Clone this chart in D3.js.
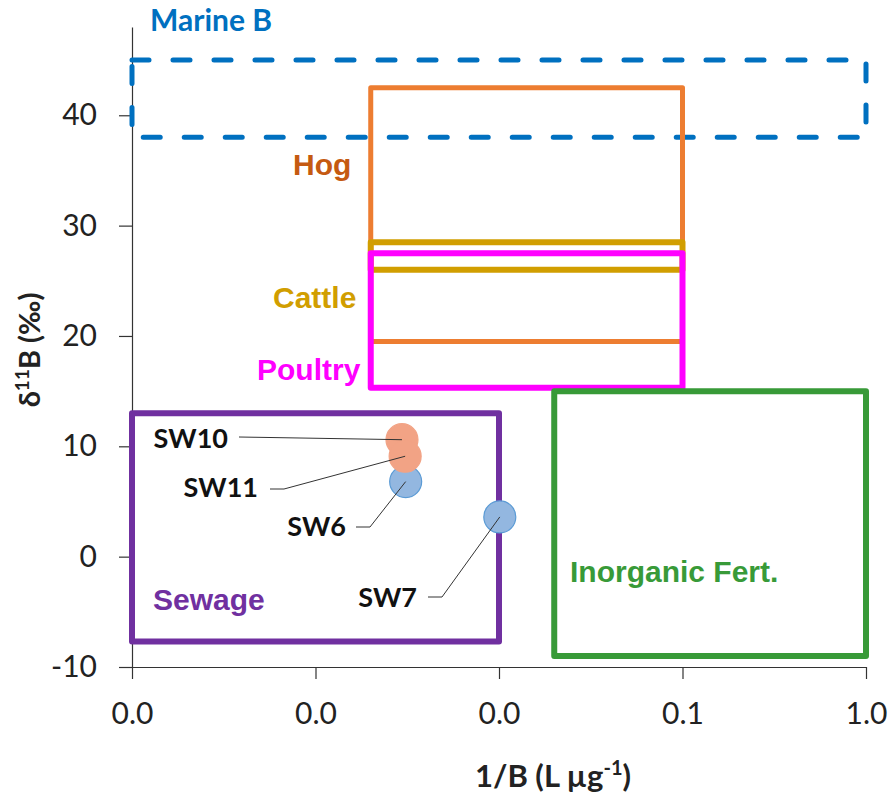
<!DOCTYPE html>
<html>
<head>
<meta charset="utf-8">
<script src="https://cdn.jsdelivr.net/npm/d3@7"></script>
<style>
  body { margin: 0; background: #fff; }
  svg { display: block; }
  .tick text { font-family: Lato, "Open Sans", sans-serif; font-size: 30px; fill: #222; }
  .tick line, .domain { stroke: #333; stroke-width: 1.2; }
</style>
</head>
<body>
<div id="chart"></div>
<script>
// Source boxes (ranges of 1/B and d11B)
var boxNames = ["Marine B", "Hog", "Cattle", "Poultry", "Sewage", "Inorganic Fert."];
var boxXmin = [0.0001, 0.002, 0.002, 0.002, 0.0001, 0.02];
var boxXmax = [1, 0.1, 0.1, 0.1, 0.01, 1];
var boxYmin = [38, 19.5, 26, 15.3, -7.7, -9];
var boxYmax = [45, 42.5, 28.5, 27.5, 13, 15];

// Samples
var sampleNames = ["SW6", "SW7", "SW10", "SW11"];
var sampleX = [0.0031, 0.0101, 0.00296, 0.00308];
var sampleY = [6.8, 3.6, 10.6, 9.1];

// Axis ticks
var xTicks = [0.0001, 0.001, 0.01, 0.1, 1];
var yTicks = [-10, 0, 10, 20, 30, 40];

var width = 889, height = 796;
var margin = { top: 27, right: 23, bottom: 129, left: 132 };

var svg = d3.select("#chart").append("svg")
    .attr("width", width)
    .attr("height", height);

var x = d3.scaleLog()
    .domain([0.0001, 1])
    .range([margin.left, width - margin.right]);

var y = d3.scaleLinear()
    .domain([-10, 48])
    .range([height - margin.bottom, margin.top]);

// styles for each box
var boxStyle = {
    "Marine B":        { stroke: "#0070C0", width: 5, dash: "17,24", label: "#0070C0" },
    "Hog":             { stroke: "#ED7D31", width: 5, label: "#C55A11" },
    "Cattle":          { stroke: "#D19E00", width: 6, label: "#D19E00" },
    "Poultry":         { stroke: "#FF00FF", width: 6, label: "#FF00FF" },
    "Sewage":          { stroke: "#7030A0", width: 6, label: "#7030A0" },
    "Inorganic Fert.": { stroke: "#389A38", width: 6, label: "#389A38" }
};
// label placement (pixel layout)
var boxLabelPos = {
    "Marine B":        { x: 150, y: 31, font: "Lato, sans-serif", size: 30 },
    "Hog":             { x: 293, y: 175 },
    "Cattle":          { x: 273, y: 308 },
    "Poultry":         { x: 257, y: 380 },
    "Sewage":          { x: 153, y: 610 },
    "Inorganic Fert.": { x: 570, y: 582 }
};

// axes
svg.append("g")
    .attr("transform", "translate(0," + (height - margin.bottom) + ")")
    .call(d3.axisBottom(x).tickValues(xTicks).tickFormat(d3.format(".1f")).tickSize(12).tickPadding(24).tickSizeOuter(0));

svg.append("g")
    .attr("transform", "translate(" + margin.left + ",0)")
    .call(d3.axisLeft(y).tickValues(yTicks).tickFormat(function(d) { return String(d); })
        .tickSize(13).tickPadding(22).tickSizeOuter(0));

svg.selectAll(".domain").attr("stroke", "#333");

// boxes (draw order matters: hog, cattle, poultry overlap)
var boxes = boxNames.map(function(n, i) {
    return { name: n, x0: boxXmin[i], x1: boxXmax[i], y0: boxYmin[i], y1: boxYmax[i] };
});

svg.selectAll("rect.box")
    .data(boxes)
    .enter().append("rect")
    .attr("class", "box")
    .attr("x", function(d) { return x(d.x0); })
    .attr("y", function(d) { return y(d.y1); })
    .attr("width", function(d) { return x(d.x1) - x(d.x0); })
    .attr("height", function(d) { return y(d.y0) - y(d.y1); })
    .attr("fill", "none")
    .attr("stroke", function(d) { return boxStyle[d.name].stroke; })
    .attr("stroke-width", function(d) { return boxStyle[d.name].width; })
    .attr("stroke-dasharray", function(d) { return boxStyle[d.name].dash || null; })
    .attr("stroke-linecap", function(d) { return boxStyle[d.name].dash ? "round" : "butt"; })
    .attr("stroke-linejoin", "round");

svg.selectAll("text.boxlabel")
    .data(boxes)
    .enter().append("text")
    .attr("class", "boxlabel")
    .attr("x", function(d) { return boxLabelPos[d.name].x; })
    .attr("y", function(d) { return boxLabelPos[d.name].y; })
    .attr("font-family", function(d) { return boxLabelPos[d.name].font || "'Liberation Sans', Arial, sans-serif"; })
    .attr("font-size", function(d) { return (boxLabelPos[d.name].size || 30) + "px"; })
    .attr("font-weight", "bold")
    .attr("fill", function(d) { return boxStyle[d.name].label; })
    .text(function(d) { return d.name; });

// samples
var samples = sampleNames.map(function(n, i) {
    return { name: n, x: sampleX[i], y: sampleY[i] };
});
var sampleColor = { "SW6": "#93B7E0", "SW7": "#93B7E0", "SW10": "#F2A385", "SW11": "#F2A385" };
var sampleStroke = { "SW6": "#5B9BD5", "SW7": "#5B9BD5", "SW10": "#F2A385", "SW11": "#F2A385" };
// label anchor (right end of text) and elbow of the leader line
var sampleLabel = {
    "SW10": { tx: 228, ty: 448, lx: 239, ly: 437, ex: null },
    "SW11": { tx: 258, ty: 497, lx: 270, ly: 489, ex: 284 },
    "SW6":  { tx: 346, ty: 536, lx: 356, ly: 527, ex: 370 },
    "SW7":  { tx: 417, ty: 607, lx: 428, ly: 597, ex: 442 }
};

svg.selectAll("circle.sample")
    .data(samples)
    .enter().append("circle")
    .attr("class", "sample")
    .attr("cx", function(d) { return x(d.x); })
    .attr("cy", function(d) { return y(d.y); })
    .attr("r", 16)
    .attr("fill", function(d) { return sampleColor[d.name]; })
    .attr("stroke", function(d) { return sampleStroke[d.name]; })
    .attr("stroke-width", 1.2);

var leader = d3.line();
svg.selectAll("path.leader")
    .data(samples)
    .enter().append("path")
    .attr("class", "leader")
    .attr("fill", "none")
    .attr("stroke", "#333")
    .attr("stroke-width", 1)
    .attr("d", function(d) {
        var p = sampleLabel[d.name];
        var pts = [[p.lx, p.ly]];
        if (p.ex) pts.push([p.ex, p.ly]);
        pts.push([x(d.x), y(d.y)]);
        return leader(pts);
    });

svg.selectAll("text.samplelabel")
    .data(samples)
    .enter().append("text")
    .attr("class", "samplelabel")
    .attr("x", function(d) { return sampleLabel[d.name].tx; })
    .attr("y", function(d) { return sampleLabel[d.name].ty; })
    .attr("text-anchor", "end")
    .attr("font-family", "Lato, sans-serif")
    .attr("font-weight", "bold")
    .attr("font-size", "27px")
    .attr("fill", "#111")
    .text(function(d) { return d.name; });

// axis titles
var xt = svg.append("text")
    .attr("x", 553)
    .attr("y", 787)
    .attr("text-anchor", "middle")
    .attr("font-family", "Lato, sans-serif")
    .attr("font-weight", "bold")
    .attr("font-size", "31px")
    .attr("fill", "#222");
xt.append("tspan").text("1/B (L \u00b5g");
xt.append("tspan").attr("dy", -12).attr("font-size", "20px").text("-1");
xt.append("tspan").attr("dy", 12).text(")");

var yt = svg.append("text")
    .attr("transform", "translate(40,350) rotate(-90)")
    .attr("text-anchor", "middle")
    .attr("font-family", "Lato, sans-serif")
    .attr("font-weight", "bold")
    .attr("font-size", "29px")
    .attr("fill", "#222");
yt.append("tspan").text("\u03b4");
yt.append("tspan").attr("dy", -11).attr("font-size", "19px").text("11");
yt.append("tspan").attr("dy", 11).text("B (\u2030)");
</script>
</body>
</html>
